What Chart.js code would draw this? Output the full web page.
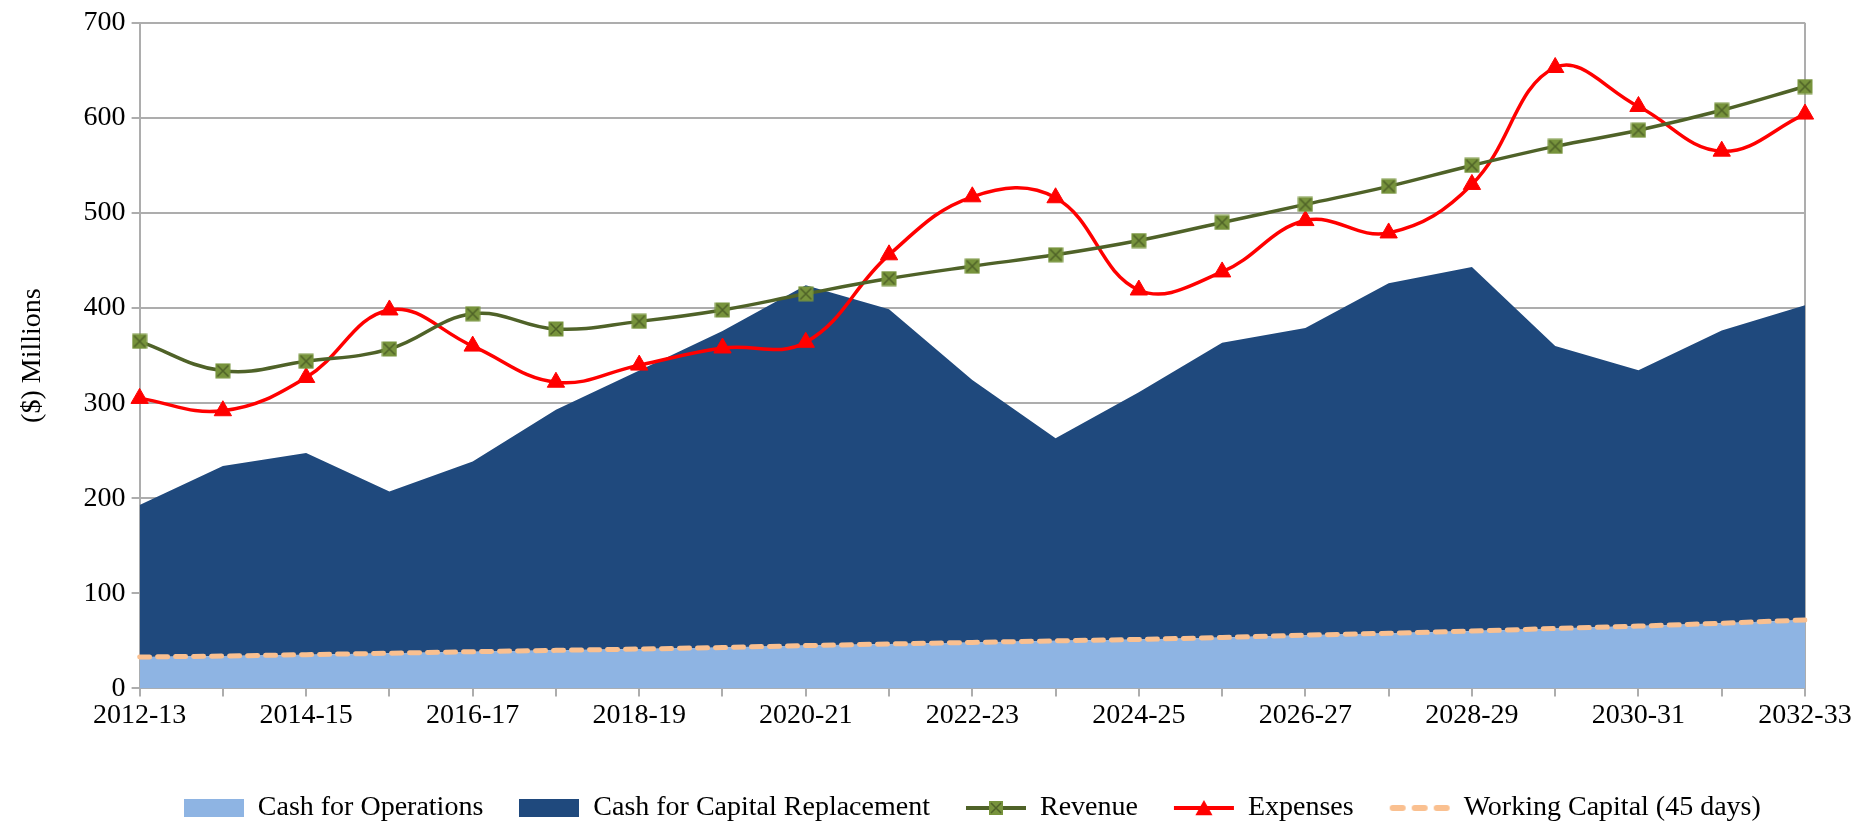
<!DOCTYPE html>
<html>
<head>
<meta charset="utf-8">
<script src="https://cdn.jsdelivr.net/npm/chart.js@4.4.1/dist/chart.umd.min.js"></script>
<style>
  html, body { margin: 0; padding: 0; background: #fff; }
  #wrap { width: 1856px; height: 824px; }
</style>
</head>
<body>
<div id="wrap"><canvas id="chart" width="1856" height="824"></canvas></div>
<script>
// fiscal years on the x axis
const categories = ['2012-13', '2013-14', '2014-15', '2015-16', '2016-17', '2017-18', '2018-19',
  '2019-20', '2020-21', '2021-22', '2022-23', '2023-24', '2024-25', '2025-26', '2026-27',
  '2027-28', '2028-29', '2029-30', '2030-31', '2031-32', '2032-33'];

// ($) millions
const cashOperations = [33, 34, 35.5, 37, 38.6, 40, 41.4, 43, 45, 46.7, 48.4, 50, 51.5, 53.5, 56, 58, 60.3, 63, 65.5, 68.5, 72];
const cashCapital = [160, 200, 212, 170, 200, 253, 293, 333, 379, 352, 276, 213, 260, 310, 323, 368, 383, 297, 269, 308, 331];
const revenue = [365, 334, 344, 357, 394, 378, 386, 398, 415, 431, 444, 456, 471, 490, 509, 528, 550, 570, 587, 608, 633];
const expenses = [305, 292, 327, 398, 360, 322, 340, 358, 364, 456, 517, 516, 419, 438, 492, 479, 530, 653, 612, 565, 604];
const workingCapital = [33, 34, 35.5, 37, 38.6, 40, 41.4, 43, 45, 46.7, 48.4, 50, 51.5, 53.5, 56, 58, 60.3, 63, 65.5, 68.5, 72];

const yTicks = [0, 100, 200, 300, 400, 500, 600, 700];

const FONT = "'Liberation Serif', 'Times New Roman', serif";
const FONT_SIZE = 28;
const GRID = '#ADADAD';
const C_OPS = '#8EB4E3';
const C_CAP = '#1F497D';
const C_REV = '#4F6228';
const C_REV_FILL = '#77933C';
const C_EXP = '#FF0000';
const C_WC = '#FAC090';

function makeCanvas(w, h) {
  let c = document.createElement('canvas');
  c.width = w;
  c.height = h;
  return c;
}

// green square with a cross, like the excel marker
function drawSquareX(g, cx, cy, s) {
  g.fillStyle = C_REV_FILL;
  g.fillRect(cx - s / 2, cy - s / 2, s, s);
  g.strokeStyle = C_REV;
  g.lineWidth = 1.5;
  g.beginPath();
  g.moveTo(cx - s / 2 + 2, cy - s / 2 + 2);
  g.lineTo(cx + s / 2 - 2, cy + s / 2 - 2);
  g.moveTo(cx + s / 2 - 2, cy - s / 2 + 2);
  g.lineTo(cx - s / 2 + 2, cy + s / 2 - 2);
  g.stroke();
}

function drawTriangle(g, cx, cy, r) {
  g.fillStyle = C_EXP;
  g.beginPath();
  g.moveTo(cx, cy - r);
  g.lineTo(cx + r * 0.95, cy + r * 0.7);
  g.lineTo(cx - r * 0.95, cy + r * 0.7);
  g.closePath();
  g.fill();
}

let revMarker = makeCanvas(16, 16);
drawSquareX(revMarker.getContext('2d'), 8, 8, 15);

// legend icons, one per dataset
function boxIcon(color) {
  let c = makeCanvas(60, 18);
  let g = c.getContext('2d');
  g.fillStyle = color;
  g.fillRect(0, 0, 60, 18);
  return c;
}

function lineIcon(color, marker) {
  let c = makeCanvas(62, 20);
  let g = c.getContext('2d');
  g.strokeStyle = color;
  g.lineWidth = 4;
  g.beginPath();
  g.moveTo(1, 10);
  g.lineTo(61, 10);
  g.stroke();
  if (marker === 'square') drawSquareX(g, 31, 10, 14);
  if (marker === 'triangle') drawTriangle(g, 31, 11, 9);
  return c;
}

function dashIcon() {
  let c = makeCanvas(62, 20);
  let g = c.getContext('2d');
  g.strokeStyle = C_WC;
  g.lineWidth = 6;
  g.lineCap = 'round';
  g.setLineDash([10, 12]);
  g.beginPath();
  g.moveTo(4, 10);
  g.lineTo(60, 10);
  g.stroke();
  return c;
}

const legendIcons = [boxIcon(C_OPS), boxIcon(C_CAP), lineIcon(C_REV, 'square'), lineIcon(C_EXP, 'triangle'), dashIcon()];

const ctx = document.getElementById('chart');

new Chart(ctx, {
  type: 'line',
  data: {
    labels: categories,
    datasets: [
      {
        label: 'Cash for Operations',
        data: cashOperations,
        stack: 'cash',
        order: 2,
        backgroundColor: C_OPS,
        borderWidth: 0,
        pointRadius: 0,
        fill: 'origin',
        tension: 0
      },
      {
        label: 'Cash for Capital Replacement',
        data: cashCapital,
        stack: 'cash',
        order: 3,
        backgroundColor: C_CAP,
        borderWidth: 0,
        pointRadius: 0,
        fill: '-1',
        tension: 0
      },
      {
        label: 'Revenue',
        data: revenue,
        stack: 'rev',
        order: 0,
        borderColor: C_REV,
        borderWidth: 3.5,
        pointStyle: revMarker,
        pointRadius: 8,
        fill: false,
        tension: 0.4,
        clip: false
      },
      {
        label: 'Expenses',
        data: expenses,
        stack: 'exp',
        order: 0,
        borderColor: C_EXP,
        backgroundColor: C_EXP,
        borderWidth: 3.5,
        pointStyle: 'triangle',
        pointRadius: 10,
        pointBorderWidth: 1,
        fill: false,
        tension: 0.4,
        clip: false
      },
      {
        label: 'Working Capital (45 days)',
        data: workingCapital,
        stack: 'wc',
        order: 1,
        borderColor: C_WC,
        borderWidth: 5,
        borderDash: [10, 8],
        borderCapStyle: 'round',
        pointRadius: 0,
        fill: false,
        tension: 0
      }
    ]
  },
  options: {
    responsive: false,
    animation: false,
    devicePixelRatio: 1,
    layout: {
      padding: { top: 20, right: 51, bottom: 0, left: 12 }
    },
    plugins: {
      tooltip: { enabled: false },
      legend: {
        position: 'bottom',
        fullSize: false,
        maxHeight: 66,
        labels: {
          usePointStyle: true,
          pointStyleWidth: 60,
          boxHeight: 18,
          padding: 36,
          color: '#000',
          font: { family: FONT, size: FONT_SIZE },
          sort: (a, b) => a.datasetIndex - b.datasetIndex,
          generateLabels(chart) {
            let items = Chart.defaults.plugins.legend.labels.generateLabels(chart);
            items.forEach(item => { item.pointStyle = legendIcons[item.datasetIndex]; });
            return items;
          }
        }
      }
    },
    scales: {
      x: {
        offset: false,
        grid: {
          drawOnChartArea: true,
          color: (c) => c.index === categories.length - 1 ? GRID : 'rgba(0,0,0,0)',
          tickColor: GRID,
          tickLength: 8,
          lineWidth: 2
        },
        border: { color: GRID, width: 2 },
        ticks: {
          autoSkip: false,
          maxRotation: 0,
          padding: 2,
          color: '#000',
          font: { family: FONT, size: FONT_SIZE },
          callback: (v, i) => i % 2 === 0 ? categories[i] : ''
        },
        afterFit: (scale) => { scale.height += 24; }
      },
      y: {
        stacked: true,
        min: yTicks[0],
        max: yTicks[yTicks.length - 1],
        afterBuildTicks: (scale) => { scale.ticks = yTicks.map(v => ({ value: v })); },
        grid: {
          color: GRID,
          lineWidth: 2,
          tickLength: 8
        },
        border: { color: GRID, width: 2 },
        ticks: {
          padding: 6,
          color: '#000',
          font: { family: FONT, size: FONT_SIZE }
        },
        title: {
          display: true,
          text: '($) Millions',
          color: '#000',
          font: { family: FONT, size: FONT_SIZE },
          padding: { top: 4, bottom: 28 }
        }
      }
    }
  }
});
</script>
</body>
</html>
